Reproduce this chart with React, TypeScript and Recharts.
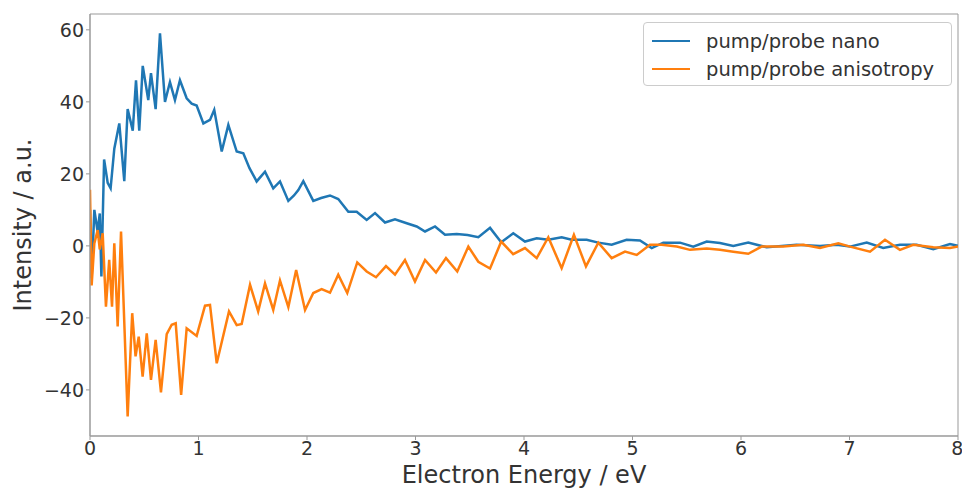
import React from "react";
import { LineChart, Line, XAxis, YAxis, ReferenceArea } from "recharts";

const nanoE = [0, 0.015, 0.04, 0.07, 0.09, 0.105, 0.13, 0.163, 0.19, 0.224, 0.27, 0.316, 0.347, 0.394, 0.424, 0.454, 0.486, 0.537, 0.562, 0.605, 0.645, 0.691, 0.737, 0.783, 0.829, 0.891, 0.937, 0.983, 1.045, 1.106, 1.145, 1.214, 1.275, 1.352, 1.413, 1.47, 1.536, 1.613, 1.689, 1.751, 1.828, 1.88, 1.92, 1.966, 2.058, 2.13, 2.212, 2.288, 2.381, 2.458, 2.55, 2.627, 2.719, 2.811, 2.919, 3.011, 3.088, 3.18, 3.272, 3.38, 3.48, 3.579, 3.687, 3.79, 3.901, 4.009, 4.117, 4.224, 4.347, 4.44, 4.578, 4.685, 4.808, 4.946, 5.069, 5.177, 5.284, 5.438, 5.56, 5.684, 5.806, 5.929, 6.067, 6.237, 6.513, 6.728, 6.882, 7.005, 7.159, 7.311, 7.465, 7.619, 7.772, 7.926, 8.0];
const nanoV = [10, -9, 10, 4, 9, -8.5, 24, 17.5, 16, 27, 34, 18, 38, 32, 46, 32, 50, 40.5, 48, 38, 59, 40, 45.5, 40.5, 46, 41, 39.5, 39, 34, 35, 37.8, 26.2, 33.6, 26.2, 25.7, 21.6, 17.9, 20.6, 16, 17.9, 12.5, 14, 15.5, 18, 12.5, 13.3, 14, 13, 9.5, 9.5, 7.2, 9.1, 6.5, 7.4, 6.3, 5.4, 4, 5.4, 3.1, 3.3, 3, 2.4, 5, 1, 3.5, 1.2, 2.1, 1.7, 2.4, 1.7, 1.7, 0.9, 0.3, 1.7, 1.5, -0.6, 0.9, 0.9, -0.2, 1.2, 0.8, 0, 0.9, -0.4, 0.3, 0, 0.3, -0.2, 0.9, -0.6, 0.3, 0.3, -0.9, 0.5, 0];

const anisoE = [0, 0.015, 0.04, 0.071, 0.09, 0.117, 0.147, 0.177, 0.203, 0.224, 0.255, 0.286, 0.347, 0.389, 0.42, 0.449, 0.485, 0.523, 0.562, 0.605, 0.654, 0.707, 0.753, 0.79, 0.84, 0.891, 0.983, 1.06, 1.106, 1.168, 1.281, 1.352, 1.398, 1.475, 1.55, 1.613, 1.689, 1.751, 1.828, 1.9, 1.982, 2.058, 2.135, 2.212, 2.288, 2.371, 2.463, 2.55, 2.636, 2.728, 2.811, 2.903, 2.995, 3.088, 3.189, 3.281, 3.385, 3.487, 3.579, 3.687, 3.79, 3.9, 4.009, 4.117, 4.224, 4.347, 4.46, 4.571, 4.685, 4.808, 4.931, 5.039, 5.161, 5.269, 5.408, 5.53, 5.684, 5.806, 5.929, 6.067, 6.19, 6.39, 6.574, 6.728, 6.897, 7.005, 7.189, 7.327, 7.465, 7.588, 7.772, 7.926, 8.0];
const anisoV = [15.6, -11, 0.7, 4.4, -1, 3.5, -16.9, -3.9, -16.9, 0.7, -22.4, 4, -47.4, -18.7, -30.7, -25.2, -36.3, -24.3, -37.2, -26.1, -40.7, -24.5, -21.9, -21.5, -41.4, -22.9, -25, -16.6, -16.4, -32.6, -18.2, -22, -21.7, -10.8, -18.2, -10.4, -17.8, -9.6, -17, -6.7, -17.8, -13.1, -12, -13, -8, -13.1, -4.6, -7.1, -8.7, -5.6, -8, -3.9, -9.9, -3.9, -7.4, -3.4, -7.1, -0.2, -4.4, -6.3, 1.2, -2.3, -0.6, -3.4, 2.4, -6.2, 3.1, -5.7, 0.9, -3.4, -1.6, -2.5, 0.3, 0.3, -0.2, -1.1, -0.7, -1.1, -1.6, -2.2, -0.2, -0.2, 0.3, -0.6, 0.7, -0.2, -1.6, 1.7, -1.1, 0.3, -0.4, -0.6, -0.2];

const xTicks = [0, 1, 2, 3, 4, 5, 6, 7, 8];
const yTicks = [-40, -20, 0, 20, 40, 60];
const seriesNames = ["pump/probe nano", "pump/probe anisotropy"];
const seriesColors = ["#1f77b4", "#ff7f0e"];

const nanoData = nanoE.map((e, i) => ({ e, v: nanoV[i] }));
const anisoData = anisoE.map((e, i) => ({ e, v: anisoV[i] }));

const FONT = "DejaVu Sans, sans-serif";

export default function App() {
  return (
    <div style={{ position: "absolute", left: 0, top: 0, width: 962, height: 491, background: "#fff" }}>
      <LineChart width={962} height={491} margin={{ top: 14, right: 4, left: 0, bottom: 0 }}>
        <XAxis
          dataKey="e"
          type="number"
          domain={[0, 8]}
          ticks={xTicks}
          allowDataOverflow
          height={55}
          tick={{ fill: "#333", fontSize: 19, fontFamily: FONT }}
          tickLine={{ stroke: "#999" }}
          axisLine={{ stroke: "#999" }}
          tickSize={4}
          label={{ value: "Electron Energy / eV", position: "insideBottom", offset: 8, fill: "#333", fontSize: 24, fontFamily: FONT }}
        />
        <YAxis
          type="number"
          domain={[-52.8, 64.4]}
          ticks={yTicks}
          allowDataOverflow
          width={90}
          tick={{ fill: "#333", fontSize: 19, fontFamily: FONT }}
          tickLine={{ stroke: "#999" }}
          axisLine={{ stroke: "#999" }}
          tickSize={4}
          tickFormatter={(v: number) => (v < 0 ? "\u2212" + Math.abs(v) : String(v))}
          label={{ value: "Intensity / a.u.", angle: -90, position: "insideLeft", offset: 22, fill: "#333", fontSize: 24, fontFamily: FONT, style: { textAnchor: "middle" } }}
        />
        <ReferenceArea x1={0} x2={8} y1={-52.8} y2={64.4} fill="none" stroke="#999" strokeWidth={1} ifOverflow="visible" />
        <Line data={nanoData} dataKey="v" stroke={seriesColors[0]} strokeWidth={2.5} dot={false} isAnimationActive={false} name={seriesNames[0]} />
        <Line data={anisoData} dataKey="v" stroke={seriesColors[1]} strokeWidth={2.5} dot={false} isAnimationActive={false} name={seriesNames[1]} />
      </LineChart>
      <div
        style={{
          position: "absolute",
          left: 643,
          top: 22,
          width: 309,
          height: 64,
          boxSizing: "border-box",
          border: "1px solid #ccc",
          borderRadius: 4,
          background: "rgba(255,255,255,0.85)",
          padding: "4px 8px",
          fontFamily: FONT,
          fontSize: 19.5,
          color: "#333",
          whiteSpace: "nowrap",
        }}
      >
        {seriesNames.map((n, i) => (
          <div key={n} style={{ display: "flex", alignItems: "center", height: 28 }}>
            <div style={{ width: 38, height: 2.5, background: seriesColors[i], marginRight: 16, flexShrink: 0 }} />
            <span>{n}</span>
          </div>
        ))}
      </div>
    </div>
  );
}
